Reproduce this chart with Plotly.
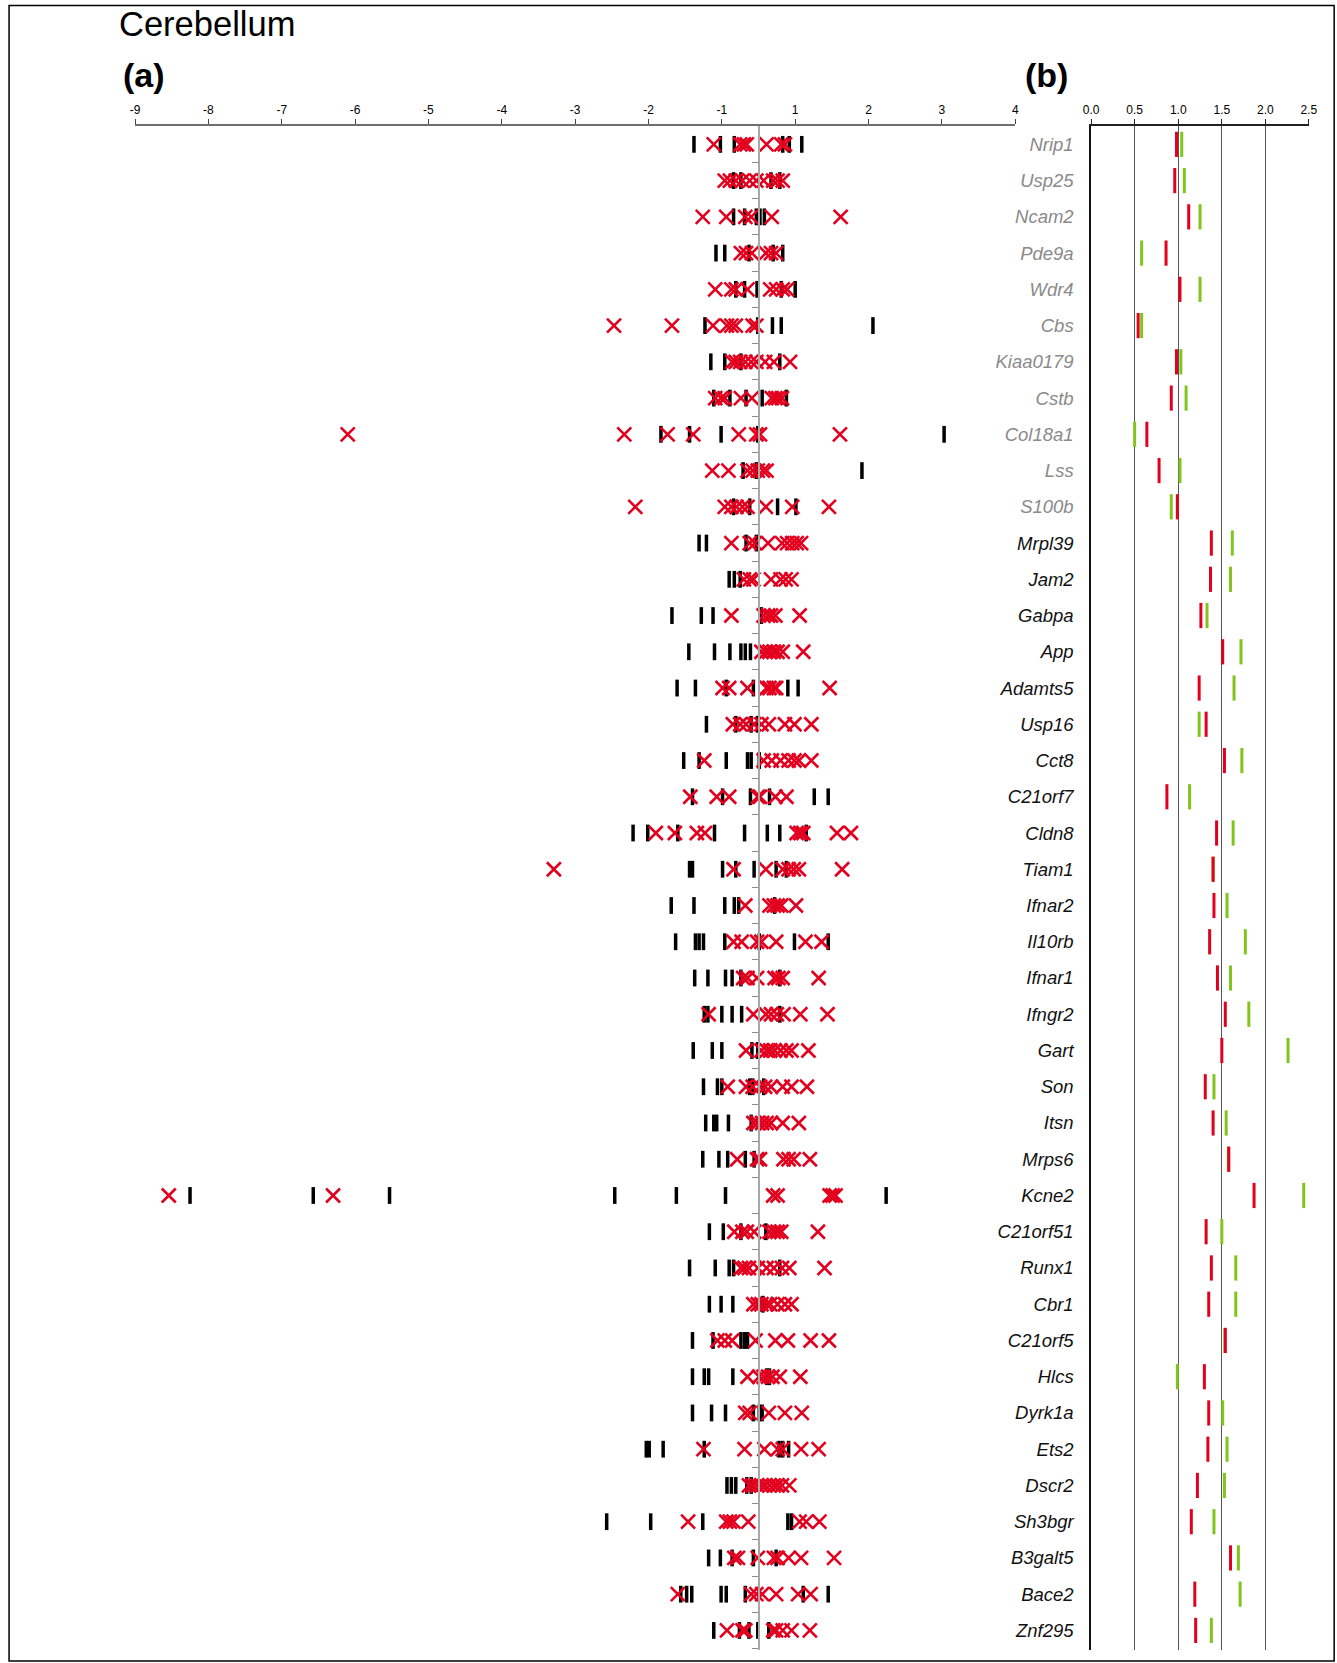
import plotly.graph_objects as go

# ---------------- data ----------------
genes = ["Nrip1", "Usp25", "Ncam2", "Pde9a", "Wdr4", "Cbs", "Kiaa0179", "Cstb", "Col18a1",
         "Lss", "S100b", "Mrpl39", "Jam2", "Gabpa", "App", "Adamts5", "Usp16", "Cct8",
         "C21orf7", "Cldn8", "Tiam1", "Ifnar2", "Il10rb", "Ifnar1", "Ifngr2", "Gart", "Son",
         "Itsn", "Mrps6", "Kcne2", "C21orf51", "Runx1", "Cbr1", "C21orf5", "Hlcs", "Dyrk1a",
         "Ets2", "Dscr2", "Sh3bgr", "B3galt5", "Bace2", "Znf295"]
# first 11 genes are greyed out
greyed = [True] * 11 + [False] * 31

# panel (a): positions on the axis (center line = 0)
a_black = [
    [-0.88, -0.52, -0.33, 0.33, 0.42, 0.59],
    [-0.34, -0.24, 0.17, 0.29],
    [-0.34, -0.19, -0.03, 0.02, 0.08],
    [-0.58, -0.46, -0.13, 0.20, 0.33],
    [-0.31, -0.19, -0.02, 0.31, 0.50],
    [-0.73, -0.01, 0.19, 0.31, 1.56],
    [-0.65, -0.46, -0.24, 0.29],
    [-0.61, -0.39, -0.17, 0.05, 0.38],
    [-1.33, -0.94, -0.51, -0.01, 2.53],
    [-0.21, -0.03, 1.41],
    [-0.34, -0.12, 0.26, 0.51],
    [-0.81, -0.71, -0.17, -0.03],
    [-0.40, -0.33, -0.25],
    [-1.18, -0.78, -0.62, 0.04],
    [-0.95, -0.60, -0.39, -0.24, -0.18, -0.11],
    [-1.11, -0.86, -0.44, -0.07, 0.40, 0.54],
    [-0.71, -0.31, -0.10, -0.01],
    [-1.02, -0.81, -0.44, -0.15, -0.10, 0.01],
    [-0.90, -0.49, -0.11, 0.15, 0.76, 0.95],
    [-1.71, -1.51, -1.10, -0.60, -0.19, 0.12, 0.29, 0.65],
    [-0.94, -0.90, -0.49, -0.31, -0.06, 0.24, 0.38],
    [-1.19, -0.88, -0.46, -0.33, -0.27, 0.22],
    [-1.13, -0.86, -0.81, -0.75, -0.46, 0.01, 0.49, 0.95],
    [-0.87, -0.69, -0.45, -0.36, -0.24, 0.29],
    [-0.74, -0.69, -0.50, -0.36, -0.23, 0.29],
    [-0.89, -0.63, -0.50, -0.09, -0.01],
    [-0.75, -0.56, -0.50, -0.12, -0.08, 0.07],
    [-0.72, -0.61, -0.57, -0.41, -0.10],
    [-0.76, -0.54, -0.42, -0.18, -0.06],
    [-7.75, -6.07, -5.03, -1.96, -1.12, -0.45, 1.74],
    [-0.67, -0.48, -0.24, 0.10],
    [-0.94, -0.59, -0.40, -0.34, 0.29],
    [-0.67, -0.51, -0.35, 0.06],
    [-0.90, -0.62, -0.24, -0.19, -0.15],
    [-0.90, -0.74, -0.68, -0.35, 0.11, 0.15],
    [-0.90, -0.64, -0.45, -0.07, 0.01, 0.05],
    [-1.53, -1.49, -1.30, -0.74, 0.28, 0.33, 0.41],
    [-0.43, -0.37, -0.31, -0.16, -0.10],
    [-2.07, -1.47, -0.76, 0.40, 0.45],
    [-0.68, -0.52, -0.36, -0.07, 0.24],
    [-1.06, -0.98, -0.91, -0.51, -0.44, -0.18, 0.61, 0.95],
    [-0.61, -0.26, -0.13, -0.01, 0.14],
]
a_red = [
    [-0.61, -0.25, -0.20, -0.16, 0.11, 0.31, 0.36],
    [-0.46, -0.39, -0.31, -0.22, -0.12, -0.03, 0.07, 0.20, 0.26, 0.33],
    [-0.76, -0.44, -0.18, -0.10, 0.18, 1.12],
    [-0.24, -0.17, -0.09, 0.10, 0.17, 0.24],
    [-0.59, -0.37, -0.31, -0.15, 0.16, 0.24, 0.33, 0.39],
    [-1.97, -1.18, -0.62, -0.43, -0.37, -0.31, -0.08, -0.03],
    [-0.36, -0.31, -0.25, -0.18, -0.10, -0.03, 0.09, 0.21, 0.43],
    [-0.59, -0.51, -0.46, -0.24, -0.09, 0.18, 0.23, 0.27, 0.32],
    [-5.60, -1.83, -1.24, -0.89, -0.27, -0.03, 0.02, 1.11],
    [-0.63, -0.41, -0.15, -0.08, -0.01, 0.06, 0.11],
    [-1.68, -0.46, -0.37, -0.30, -0.22, -0.15, 0.10, 0.46, 0.96],
    [-0.37, -0.12, -0.05, 0.13, 0.32, 0.39, 0.46, 0.52, 0.58],
    [-0.20, -0.12, -0.07, 0.17, 0.30, 0.37, 0.45],
    [-0.37, 0.07, 0.13, 0.17, 0.23, 0.56],
    [0.04, 0.10, 0.15, 0.21, 0.26, 0.33, 0.61],
    [-0.49, -0.40, -0.15, 0.11, 0.15, 0.21, 0.24, 0.97],
    [-0.35, -0.25, -0.17, -0.06, 0.04, 0.14, 0.36, 0.49, 0.72],
    [-0.74, 0.07, 0.18, 0.30, 0.41, 0.49, 0.55, 0.72],
    [-0.93, -0.57, -0.40, -0.01, 0.02, 0.23, 0.38],
    [-1.40, -1.14, -0.84, -0.73, 0.52, 0.57, 0.61, 1.07, 1.26],
    [-2.79, -0.34, 0.10, 0.33, 0.41, 0.48, 0.55, 1.14],
    [-0.18, 0.15, 0.21, 0.26, 0.31, 0.51],
    [-0.34, -0.23, -0.02, 0.04, 0.24, 0.64, 0.86],
    [-0.21, -0.15, -0.02, 0.22, 0.27, 0.33, 0.82],
    [-0.68, -0.07, 0.10, 0.17, 0.25, 0.34, 0.57, 0.94],
    [-0.17, 0.04, 0.11, 0.16, 0.22, 0.30, 0.38, 0.45, 0.68],
    [-0.42, -0.17, -0.08, 0.02, 0.09, 0.17, 0.33, 0.45, 0.66],
    [-0.07, -0.01, 0.05, 0.11, 0.17, 0.33, 0.55],
    [-0.29, -0.02, 0.02, 0.34, 0.41, 0.48, 0.70],
    [-8.04, -5.80, 0.20, 0.26, 0.97, 1.01, 1.05],
    [-0.33, -0.22, -0.16, -0.06, 0.15, 0.21, 0.26, 0.31, 0.81],
    [-0.24, -0.19, -0.13, -0.01, 0.11, 0.21, 0.32, 0.42, 0.90],
    [-0.07, -0.01, 0.04, 0.11, 0.16, 0.26, 0.36, 0.45],
    [-0.56, -0.46, -0.36, -0.04, 0.23, 0.40, 0.71, 0.96],
    [-0.15, 0.01, 0.07, 0.13, 0.19, 0.29, 0.57],
    [-0.18, -0.12, 0.14, 0.36, 0.59],
    [-0.75, -0.19, 0.08, 0.26, 0.33, 0.58, 0.82],
    [-0.13, -0.08, -0.02, 0.04, 0.09, 0.15, 0.21, 0.26, 0.32, 0.42],
    [-0.96, -0.44, -0.39, -0.34, -0.14, 0.56, 0.65, 0.83],
    [-0.33, -0.28, -0.01, 0.21, 0.26, 0.41, 0.58, 1.03],
    [-1.10, -0.10, -0.03, 0.05, 0.24, 0.54, 0.71],
    [-0.43, -0.22, -0.18, 0.20, 0.24, 0.33, 0.45, 0.70],
]
a_tick_labels = [-9, -8, -7, -6, -5, -4, -3, -2, -1, 1, 2, 3, 4]

# panel (b)
b_red = [0.98, 0.96, 1.12, 0.86, 1.02, 0.54, 0.98, 0.92, 0.64, 0.78, 0.99, 1.38, 1.37, 1.26,
         1.51, 1.24, 1.32, 1.53, 0.87, 1.44, 1.40, 1.41, 1.36, 1.45, 1.54, 1.50, 1.31, 1.40,
         1.58, 1.87, 1.32, 1.38, 1.35, 1.54, 1.30, 1.35, 1.34, 1.22, 1.15, 1.60, 1.19, 1.20]
b_green = [1.04, 1.07, 1.25, 0.58, 1.25, 0.58, 1.03, 1.09, 0.50, 1.02, 0.92, 1.62, 1.60, 1.33,
           1.72, 1.64, 1.24, 1.73, 1.13, 1.63, 1.40, 1.56, 1.77, 1.60, 1.81, 2.26, 1.41, 1.55,
           1.575, 2.44, 1.50, 1.66, 1.66, 1.535, 0.99, 1.51, 1.56, 1.53, 1.41, 1.69, 1.71, 1.38]
b_tick_values = [0.0, 0.5, 1.0, 1.5, 2.0, 2.5]

# ---------------- styling / layout ----------------
W, H = 1345, 1663
SX, OX = 0.988, 8.0          # observed horizontal mapping of the viewer
RED = "#e3001f"
GREEN = "#80c41c"
FONT = "Liberation Sans, Arial, Helvetica, sans-serif"

def fx(px):
    # target picture pixel -> paper fraction
    return ((px - OX) / SX) / W

def fy(py):
    return 1 - py / H

n = len(genes)
rows = list(range(n))

xa_black, ya_black, xa_red, ya_red = [], [], [], []
for i in rows:
    xa_black += a_black[i]
    ya_black += [i] * len(a_black[i])
    xa_red += a_red[i]
    ya_red += [i] * len(a_red[i])

fig = go.Figure()
fig.add_trace(go.Scatter(
    x=xa_black, y=ya_black, mode="markers", xaxis="x", yaxis="y", cliponaxis=False,
    marker=dict(symbol="line-ns", size=12, color="black", line=dict(width=3.5, color="black")),
    hoverinfo="skip", showlegend=False))
fig.add_trace(go.Scatter(
    x=xa_red, y=ya_red, mode="markers", xaxis="x", yaxis="y", cliponaxis=False,
    marker=dict(symbol="x-thin", size=14, color=RED, line=dict(width=2.6, color=RED)),
    hoverinfo="skip", showlegend=False))
fig.add_trace(go.Scatter(
    x=b_green, y=rows, mode="markers", xaxis="x2", yaxis="y2", cliponaxis=False,
    marker=dict(symbol="line-ns", size=18, color=GREEN, line=dict(width=3, color=GREEN)),
    hoverinfo="skip", showlegend=False))
fig.add_trace(go.Scatter(
    x=b_red, y=rows, mode="markers", xaxis="x2", yaxis="y2", cliponaxis=False,
    marker=dict(symbol="line-ns", size=18, color=RED, line=dict(width=3, color=RED)),
    hoverinfo="skip", showlegend=False))

a_tick_pos = [(v + 0.5) if v < 0 else (v - 0.5) for v in a_tick_labels]
yrange = [41.54, -0.52]
ydom = [fy(1650), fy(125.5)]

gene_text = []
for g, gr in zip(genes, greyed):
    col = "#8a8a8a" if gr else "#111111"
    gene_text.append(f"<span style='color:{col}'><i>{g}</i></span>")

fig.update_layout(
    width=W, height=H, margin=dict(l=0, r=0, t=0, b=0),
    paper_bgcolor="white", plot_bgcolor="rgba(0,0,0,0)",
    font=dict(family=FONT, color="black"),
    xaxis=dict(domain=[fx(135.1), fx(1015.9)], range=[-8.5, 3.5], anchor="y", side="top",
               showline=True, linecolor="#6e6e6e", linewidth=2, showgrid=False, zeroline=False,
               ticks="outside", ticklen=5, tickwidth=1, tickcolor="#444",
               tickvals=a_tick_pos, ticktext=[str(v) for v in a_tick_labels],
               tickfont=dict(size=12, color="black"), ticklabelstandoff=0),
    yaxis=dict(domain=ydom, range=yrange, anchor="free", position=fx(759),
               showline=True, linecolor="#a8a8a8", linewidth=1.5, showgrid=False, zeroline=False,
               ticks="outside", ticklen=6, tickwidth=1, tickcolor="#8a8a8a",
               tickvals=[i + 0.5 for i in rows], showticklabels=False),
    xaxis2=dict(domain=[fx(1091.8), fx(1309.8)], range=[0, 2.5], anchor="y2", side="top",
                showline=True, linecolor="#222", linewidth=2, zeroline=False,
                showgrid=True, gridcolor="#555", gridwidth=1.2,
                ticks="outside", ticklen=5, tickwidth=1, tickcolor="#222",
                tickvals=b_tick_values, ticktext=[f"{v:.1f}" for v in b_tick_values],
                tickfont=dict(size=12, color="black"), ticklabelstandoff=0),
    yaxis2=dict(domain=ydom, range=yrange, anchor="x2",
                showline=True, linecolor="#111", linewidth=1.5, showgrid=False, zeroline=False,
                ticks="", tickvals=rows, ticktext=gene_text,
                tickfont=dict(size=18.5, family=FONT), ticklabelstandoff=12),
    annotations=[
        dict(text="Cerebellum", xref="paper", yref="paper", x=fx(117), y=fy(24),
             xanchor="left", yanchor="middle", showarrow=False,
             font=dict(size=34.5, family=FONT, color="black")),
        dict(text="<b>(a)</b>", xref="paper", yref="paper", x=fx(121), y=fy(75),
             xanchor="left", yanchor="middle", showarrow=False,
             font=dict(size=34, family=FONT, color="black")),
        dict(text="<b>(b)</b>", xref="paper", yref="paper", x=fx(1024), y=fy(75),
             xanchor="left", yanchor="middle", showarrow=False,
             font=dict(size=34, family=FONT, color="black")),
    ],
    shapes=[dict(type="rect", xref="paper", yref="paper", x0=0.0008, x1=fx(1335),
                 y0=fy(1661), y1=fy(5.5), line=dict(color="black", width=1.5))],
)

fig.write_html("out.html", config={"displayModeBar": False},
               post_script="document.body.style.margin='0';document.body.style.overflow='hidden';")
